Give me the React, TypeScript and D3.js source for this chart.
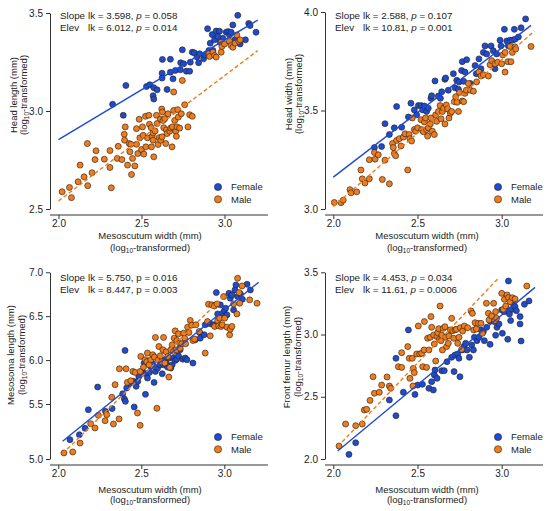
import React from 'react';
import { select, scaleLinear, axisLeft, axisBottom, line } from 'd3';

type Pt = [number, number];

const FONT = '"Liberation Sans", Arial, Helvetica, sans-serif';
const INK = '#222';

const seriesNames = ['Female', 'Male'];
const seriesColors = ['#1c4bd4', '#f07c1c'];

const xTicks = [2.0, 2.5, 3.0];
const xTitle = 'Mesoscutum width (mm)';

// --- head length ---
const headLengthTicks = [2.5, 3.0, 3.5];
const headLengthFemale: Pt[] = [
  [2.326, 3.034], [2.39, 2.978], [2.406, 3.13], [2.53, 3.125], [2.55, 3.134], [2.574, 3.119],
  [2.594, 3.108], [2.57, 3.078], [2.574, 3.061], [2.624, 3.193], [2.624, 3.168], [2.654, 3.11],
  [2.674, 3.198], [2.674, 3.264], [2.69, 3.164], [2.626, 3.263], [2.704, 3.207], [2.734, 3.21],
  [2.746, 3.312], [2.736, 3.246], [2.754, 3.241], [2.77, 3.203], [2.794, 3.249], [2.79, 3.203],
  [2.806, 3.3], [2.818, 3.297], [2.834, 3.276], [2.844, 3.246], [2.85, 3.292], [2.874, 3.266],
  [2.88, 3.286], [2.898, 3.42], [2.906, 3.309], [2.914, 3.346], [2.93, 3.309], [2.926, 3.39],
  [2.94, 3.363], [2.95, 3.408], [2.97, 3.407], [2.974, 3.351], [2.99, 3.371], [3.01, 3.402],
  [3.022, 3.405], [3.03, 3.388], [3.04, 3.402], [3.05, 3.439], [3.062, 3.363], [3.08, 3.488],
  [3.094, 3.342], [3.126, 3.363], [3.146, 3.447], [3.154, 3.436], [3.19, 3.402], [2.96, 3.38],
];
const headLengthMale: Pt[] = [
  [2.022, 2.588], [2.066, 2.61], [2.078, 2.558], [2.118, 2.639], [2.13, 2.724], [2.154, 2.664],
  [2.176, 2.619], [2.174, 2.834], [2.202, 2.685], [2.22, 2.752], [2.226, 2.797], [2.276, 2.754],
  [2.31, 2.798], [2.31, 2.712], [2.318, 2.608], [2.354, 2.758], [2.36, 2.82], [2.382, 2.752],
  [2.396, 2.881], [2.398, 2.851], [2.402, 2.919], [2.416, 2.724], [2.426, 2.834], [2.43, 2.792],
  [2.436, 2.83], [2.44, 2.676], [2.446, 2.758], [2.46, 2.72], [2.47, 2.91], [2.47, 2.83],
  [2.478, 2.783], [2.486, 2.958], [2.49, 2.863], [2.5, 2.803], [2.506, 2.919], [2.51, 2.876],
  [2.514, 2.78], [2.524, 2.973], [2.526, 2.817], [2.536, 2.863], [2.544, 2.978], [2.548, 2.932],
  [2.558, 2.915], [2.56, 2.817], [2.564, 2.871], [2.57, 2.888], [2.57, 2.851], [2.574, 2.766],
  [2.582, 2.898], [2.59, 2.978], [2.594, 2.936], [2.6, 2.829], [2.606, 2.864], [2.614, 2.959],
  [2.616, 2.851], [2.622, 3.01], [2.624, 2.868], [2.626, 2.995], [2.63, 2.952], [2.634, 2.915],
  [2.64, 2.961], [2.646, 2.834], [2.65, 2.903], [2.654, 2.885], [2.66, 2.986], [2.67, 2.897],
  [2.676, 2.913], [2.684, 2.817], [2.686, 2.919], [2.694, 3.003], [2.694, 3.097], [2.7, 2.952],
  [2.706, 2.897], [2.71, 2.871], [2.714, 2.919], [2.718, 3.007], [2.722, 2.969], [2.73, 2.913],
  [2.74, 2.986], [2.76, 3.032], [2.78, 2.919], [2.79, 2.981], [2.806, 2.973], [2.746, 3.156],
  [2.906, 3.292], [2.91, 3.278], [2.93, 3.3], [2.94, 3.283], [2.95, 3.275], [2.98, 3.3],
  [2.98, 3.351], [2.984, 3.329], [3.0, 3.342], [3.03, 3.356], [3.04, 3.334], [3.05, 3.325],
  [3.064, 3.346], [3.074, 3.388], [3.086, 3.356], [3.094, 3.363],
];
const headLengthFemaleFit: Pt[] = [[2.0, 2.854], [3.2, 3.464]];
const headLengthMaleFit: Pt[] = [[2.0, 2.541], [3.2, 3.308]];

// --- head width ---
const headWidthTicks = [3.0, 3.5, 4.0];
const headWidthFemale: Pt[] = [
  [2.244, 3.312], [2.287, 3.317], [2.307, 3.433], [2.333, 3.378], [2.362, 3.412], [2.376, 3.52],
  [2.406, 3.415], [2.446, 3.467], [2.461, 3.537], [2.481, 3.503], [2.495, 3.478], [2.505, 3.525],
  [2.521, 3.525], [2.531, 3.503], [2.541, 3.523], [2.554, 3.495], [2.564, 3.512], [2.58, 3.562],
  [2.584, 3.575], [2.604, 3.65], [2.624, 3.573], [2.636, 3.562], [2.644, 3.595], [2.663, 3.658],
  [2.667, 3.665], [2.683, 3.603], [2.713, 3.687], [2.723, 3.615], [2.733, 3.653], [2.743, 3.608],
  [2.747, 3.645], [2.762, 3.703], [2.766, 3.748], [2.774, 3.648], [2.782, 3.695], [2.792, 3.758],
  [2.814, 3.637], [2.842, 3.728], [2.849, 3.687], [2.865, 3.762], [2.877, 3.712], [2.891, 3.795],
  [2.901, 3.828], [2.911, 3.787], [2.937, 3.828], [2.95, 3.803], [2.96, 3.712], [2.97, 3.787],
  [2.99, 3.857], [2.996, 3.828], [3.016, 3.912], [3.03, 3.853], [3.04, 3.828], [3.049, 3.857],
  [3.063, 3.857], [3.075, 3.912], [3.079, 3.862], [3.099, 3.873], [3.115, 3.92], [3.142, 3.965],
];
const headWidthMale: Pt[] = [
  [2.006, 3.033], [2.046, 3.032], [2.059, 3.045], [2.099, 3.098], [2.105, 3.082], [2.139, 3.087],
  [2.164, 3.198], [2.172, 3.153], [2.188, 3.132], [2.214, 3.25], [2.214, 3.153], [2.244, 3.287],
  [2.248, 3.253], [2.267, 3.275], [2.291, 3.15], [2.307, 3.248], [2.333, 3.128], [2.352, 3.333],
  [2.356, 3.312], [2.362, 3.282], [2.37, 3.27], [2.376, 3.348], [2.392, 3.357], [2.402, 3.32],
  [2.416, 3.365], [2.426, 3.382], [2.442, 3.198], [2.45, 3.378], [2.455, 3.357], [2.465, 3.345],
  [2.469, 3.462], [2.481, 3.403], [2.489, 3.395], [2.501, 3.412], [2.521, 3.453], [2.525, 3.403],
  [2.535, 3.392], [2.541, 3.442], [2.548, 3.462], [2.554, 3.403], [2.56, 3.37], [2.564, 3.412],
  [2.576, 3.432], [2.58, 3.462], [2.588, 3.395], [2.6, 3.378], [2.608, 3.478], [2.614, 3.445],
  [2.624, 3.495], [2.634, 3.525], [2.64, 3.458], [2.648, 3.495], [2.655, 3.512], [2.663, 3.432],
  [2.671, 3.528], [2.679, 3.508], [2.687, 3.462], [2.695, 3.487], [2.703, 3.495], [2.719, 3.545],
  [2.727, 3.57], [2.735, 3.542], [2.743, 3.495], [2.749, 3.592], [2.766, 3.548], [2.774, 3.545],
  [2.782, 3.587], [2.79, 3.603], [2.802, 3.637], [2.814, 3.603], [2.832, 3.598], [2.851, 3.645],
  [2.865, 3.695], [2.877, 3.675], [2.891, 3.682], [2.921, 3.675], [2.931, 3.732], [2.941, 3.753],
  [2.96, 3.737], [2.976, 3.745], [3.0, 3.737], [3.006, 3.782], [3.02, 3.695], [3.036, 3.748],
  [3.05, 3.825], [3.055, 3.748], [3.063, 3.795], [3.079, 3.823], [3.083, 3.812], [3.174, 3.825],
  [3.02, 3.795],
];
const headWidthFemaleFit: Pt[] = [[2.0, 3.162], [3.174, 3.932]];
const headWidthMaleFit: Pt[] = [[2.0, 3.012], [3.194, 3.903]];

// --- mesosoma length ---
const mesosomaTicks = [5.0, 5.5, 6.0, 6.5, 7.0];
const mesosomaFemale: Pt[] = [
  [2.07, 5.176], [2.127, 5.221], [2.161, 5.279], [2.181, 5.448], [2.237, 5.693], [2.284, 5.433],
  [2.324, 5.458], [2.388, 5.617], [2.398, 5.557], [2.404, 5.53], [2.402, 6.11], [2.412, 5.682],
  [2.428, 5.739], [2.453, 5.758], [2.457, 5.473], [2.469, 5.701], [2.479, 5.758], [2.485, 5.814],
  [2.509, 5.86], [2.517, 5.966], [2.525, 5.61], [2.529, 5.845], [2.537, 5.795], [2.549, 5.86],
  [2.557, 5.928], [2.569, 5.958], [2.577, 5.746], [2.585, 5.871], [2.598, 5.909], [2.614, 5.947],
  [2.626, 5.845], [2.634, 5.947], [2.64, 6.004], [2.65, 5.966], [2.658, 5.92], [2.666, 6.023],
  [2.678, 5.909], [2.686, 5.947], [2.694, 6.023], [2.704, 5.996], [2.714, 6.011], [2.724, 6.049],
  [2.734, 6.117], [2.75, 6.011], [2.765, 6.023], [2.775, 6.004], [2.811, 5.966], [2.825, 6.231],
  [2.851, 6.314], [2.855, 6.25], [2.879, 6.288], [2.885, 6.402], [2.915, 6.413], [2.936, 6.402],
  [2.952, 6.769], [2.96, 6.526], [2.976, 6.629], [2.992, 6.534], [3.0, 6.564], [3.008, 6.591],
  [3.016, 6.515], [3.028, 6.761], [3.036, 6.705], [3.046, 6.742], [3.056, 6.572], [3.064, 6.799],
  [3.07, 6.856], [3.08, 6.723], [3.097, 6.754], [3.109, 6.693], [3.137, 6.864], [3.157, 6.799],
];
const mesosomaMale: Pt[] = [
  [2.034, 5.055], [2.087, 5.064], [2.131, 5.145], [2.195, 5.321], [2.221, 5.282], [2.241, 5.397],
  [2.282, 5.348], [2.292, 5.403], [2.322, 5.576], [2.332, 5.318], [2.342, 5.72], [2.366, 5.364],
  [2.368, 5.901], [2.408, 5.901], [2.416, 5.746], [2.437, 5.765], [2.449, 5.871], [2.463, 5.86],
  [2.477, 5.418], [2.493, 5.306], [2.493, 5.871], [2.497, 6.042], [2.513, 5.92], [2.523, 6.004],
  [2.533, 5.981], [2.537, 6.08], [2.547, 5.947], [2.557, 6.004], [2.569, 6.061], [2.579, 6.034],
  [2.585, 6.258], [2.594, 5.461], [2.602, 6.004], [2.606, 6.155], [2.614, 6.049], [2.622, 5.981],
  [2.63, 6.117], [2.634, 6.258], [2.642, 5.966], [2.65, 6.095], [2.66, 6.042], [2.666, 5.807],
  [2.672, 5.917], [2.678, 6.117], [2.686, 6.174], [2.694, 6.098], [2.698, 6.25], [2.704, 6.333],
  [2.71, 6.117], [2.714, 6.223], [2.724, 6.299], [2.73, 6.193], [2.734, 6.136], [2.744, 6.186],
  [2.755, 6.307], [2.761, 6.25], [2.767, 6.186], [2.779, 6.375], [2.787, 6.314], [2.795, 6.451],
  [2.803, 6.398], [2.811, 6.223], [2.821, 6.239], [2.829, 6.402], [2.849, 6.326], [2.885, 6.08],
  [2.899, 6.439], [2.905, 6.636], [2.915, 6.276], [2.925, 6.629], [2.94, 6.617], [2.942, 6.383],
  [2.956, 6.64], [2.96, 6.451], [2.966, 6.39], [2.972, 6.477], [2.98, 6.383], [2.988, 6.402],
  [2.996, 6.723], [3.002, 6.477], [3.016, 6.375], [3.032, 6.288], [3.036, 6.352], [3.046, 6.383],
  [3.056, 6.64], [3.08, 6.932], [3.089, 6.769], [3.093, 6.648], [3.107, 6.845], [3.076, 6.526],
  [3.153, 6.686], [3.197, 6.648],
];
const mesosomaFemaleFit: Pt[] = [[2.026, 5.161], [3.207, 6.886]];
const mesosomaMaleFit: Pt[] = [[2.026, 5.049], [3.006, 6.742]];

// --- front femur length ---
const femurTicks = [2.0, 2.5, 3.0, 3.5];
const femurFemale: Pt[] = [
  [2.093, 2.037], [2.133, 2.131], [2.333, 2.474], [2.372, 2.348], [2.372, 2.809], [2.416, 2.536],
  [2.446, 3.037], [2.485, 2.519], [2.501, 2.594], [2.529, 2.6], [2.568, 2.568], [2.584, 2.621],
  [2.594, 2.554], [2.6, 2.675], [2.604, 2.715], [2.616, 2.648], [2.644, 2.71], [2.659, 2.71],
  [2.675, 2.782], [2.703, 2.817], [2.717, 2.702], [2.723, 2.836], [2.739, 2.844], [2.746, 2.809],
  [2.752, 2.661], [2.766, 2.876], [2.776, 2.903], [2.786, 2.929], [2.794, 2.876], [2.808, 2.817],
  [2.822, 2.916], [2.832, 2.876], [2.838, 2.978], [2.853, 2.951], [2.865, 2.978], [2.877, 3.037],
  [2.891, 3.023], [2.897, 2.951], [2.911, 3.058], [2.931, 3.109], [2.931, 2.921], [2.956, 3.104],
  [2.964, 2.994], [2.972, 3.058], [2.984, 3.085], [3.0, 3.197], [3.004, 3.01], [3.016, 3.184],
  [3.028, 3.211], [3.036, 2.962], [3.04, 3.43], [3.046, 3.165], [3.053, 3.112], [3.063, 3.203],
  [3.071, 3.237], [3.079, 3.224], [3.087, 3.192], [3.109, 3.144], [3.109, 3.085], [3.115, 2.948],
  [3.135, 3.243], [3.162, 3.27],
];
const femurMale: Pt[] = [
  [2.034, 2.104], [2.073, 2.281], [2.133, 2.268], [2.172, 2.281], [2.184, 2.394], [2.198, 2.399],
  [2.218, 2.471], [2.236, 2.661], [2.244, 2.528], [2.273, 2.536], [2.287, 2.594], [2.319, 2.659],
  [2.333, 2.586], [2.341, 2.568], [2.386, 2.742], [2.406, 2.736], [2.406, 2.854], [2.442, 2.903],
  [2.451, 2.809], [2.455, 2.648], [2.469, 2.809], [2.473, 2.586], [2.475, 2.728], [2.481, 2.694],
  [2.495, 2.844], [2.505, 3.069], [2.513, 2.844], [2.525, 2.849], [2.531, 2.742], [2.539, 2.876],
  [2.541, 3.104], [2.554, 2.736], [2.56, 2.97], [2.568, 2.876], [2.576, 2.978], [2.58, 3.144],
  [2.584, 3.058], [2.596, 2.996], [2.6, 2.924], [2.608, 2.787], [2.616, 2.983], [2.62, 3.015],
  [2.626, 3.047], [2.63, 2.962], [2.634, 3.229], [2.64, 2.951], [2.644, 2.996], [2.648, 2.876],
  [2.653, 3.05], [2.663, 3.063], [2.667, 2.978], [2.673, 2.903], [2.683, 2.929], [2.687, 2.988],
  [2.695, 3.037], [2.703, 3.13], [2.709, 3.031], [2.715, 2.97], [2.723, 3.037], [2.731, 3.042],
  [2.739, 2.929], [2.746, 2.978], [2.754, 3.055], [2.762, 2.881], [2.768, 3.028], [2.778, 3.069],
  [2.798, 3.055], [2.818, 3.189], [2.826, 3.17], [2.834, 3.037], [2.842, 3.095], [2.85, 3.045],
  [2.861, 3.09], [2.877, 3.09], [2.885, 3.01], [2.909, 3.251], [2.921, 3.17], [2.925, 3.117],
  [2.941, 3.149], [2.952, 3.251], [2.96, 3.112], [2.964, 3.184], [2.97, 3.13], [3.0, 3.331],
  [3.01, 3.203], [3.016, 3.283], [3.024, 3.229], [3.032, 3.318], [3.04, 3.296], [3.05, 3.264],
  [3.063, 3.296], [3.079, 3.286], [3.149, 3.39],
];
const femurFemaleFit: Pt[] = [[2.026, 2.064], [3.198, 3.379]];
const femurMaleFit: Pt[] = [[2.026, 2.099], [2.98, 3.452]];

// test statistics: [lk, p] for slope and elevation
const slopeStats = [['3.598', '0.058'], ['2.588', '0.107'], ['5.750', '0.016'], ['4.453', '0.034']];
const elevStats = [['6.012', '0.014'], ['10.81', '0.001'], ['8.447', '0.003'], ['11.61', '0.0006']];
const yTitles = ['Head length (mm)', 'Head width (mm)', 'Mesosoma length (mm)', 'Front femur length (mm)'];

interface PanelSpec {
  left: number;
  top: number;
  yTicks: number[];
  yDomain: number[];
  yRange: number[];
  xRange: number[];
  female: Pt[];
  male: Pt[];
  femaleFit: Pt[];
  maleFit: Pt[];
  slope: string[];
  elev: string[];
  yTitle: string;
  italicP: boolean;
  noteY: number;
  titleY: number;
  titleX: number[];
  xTitleY: number[];
  xTitleX: number;
  legendX: number;
}

const panels: PanelSpec[] = [
  {
    left: 0, top: 0, yTicks: headLengthTicks, yDomain: [2.5, 3.5], yRange: [209, 13], xRange: [58.5, 224.5],
    female: headLengthFemale, male: headLengthMale, femaleFit: headLengthFemaleFit, maleFit: headLengthMaleFit,
    slope: slopeStats[0], elev: elevStats[0], yTitle: yTitles[0], italicP: true,
    noteY: 19, titleY: 95, titleX: [16.5, 27], xTitleY: [238.5, 250.5], xTitleX: 150, legendX: 218,
  },
  {
    left: 275, top: 0, yTicks: headWidthTicks, yDomain: [3.0, 4.0], yRange: [209, 12], xRange: [58.3, 226.7],
    female: headWidthFemale, male: headWidthMale, femaleFit: headWidthFemaleFit, maleFit: headWidthMaleFit,
    slope: slopeStats[1], elev: elevStats[1], yTitle: yTitles[1], italicP: true,
    noteY: 19, titleY: 94, titleX: [16.5, 27], xTitleY: [238.5, 250.5], xTitleX: 152, legendX: 223,
  },
  {
    left: 0, top: 250, yTicks: mesosomaTicks, yDomain: [5.0, 5.5, 7.0], yRange: [209, 154, 22.3], xRange: [58.3, 224.3],
    female: mesosomaFemale, male: mesosomaMale, femaleFit: mesosomaFemaleFit, maleFit: mesosomaMaleFit,
    slope: slopeStats[2], elev: elevStats[2], yTitle: yTitles[2], italicP: false,
    noteY: 31, titleY: 105, titleX: [14, 24.5], xTitleY: [242.5, 253], xTitleX: 150, legendX: 218,
  },
  {
    left: 275, top: 250, yTicks: femurTicks, yDomain: [2.0, 3.5], yRange: [209, 22.3], xRange: [58.3, 226.7],
    female: femurFemale, male: femurMale, femaleFit: femurFemaleFit, maleFit: femurMaleFit,
    slope: slopeStats[3], elev: elevStats[3], yTitle: yTitles[3], italicP: true,
    noteY: 31, titleY: 107, titleX: [15, 25.5], xTitleY: [242.5, 253], xTitleX: 152, legendX: 223,
  },
];

const AXIS_X = 50;
const AXIS_Y = 215;
const AXIS_END = 268;

const LogLabel: React.FC = () => (
  <>
    (log<tspan fontSize={6.5} dy={2}>10</tspan>
    <tspan dy={-2}>-transformed)</tspan>
  </>
);

const Stat: React.FC<{ x: number; y: number; name: string; lk: string; p: string; italic: boolean }> = ({
  x, y, name, lk, p, italic,
}) => (
  <text x={x} y={y} fontSize={9.8} fill={INK}>
    {name}
    <tspan x={x + 28}>{`lk = ${lk}, `}</tspan>
    <tspan fontStyle={italic ? 'italic' : 'normal'}>p</tspan>
    {` = ${p}`}
  </text>
);

const Panel: React.FC<{ p: PanelSpec }> = ({ p }) => {
  const xRef = React.useRef<SVGGElement>(null);
  const yRef = React.useRef<SVGGElement>(null);

  const x = scaleLinear().domain([2, 3]).range(p.xRange);
  const y = scaleLinear().domain(p.yDomain).range(p.yRange);
  const fit = line<Pt>()
    .x(d => x(d[0]))
    .y(d => y(d[1]));

  React.useEffect(() => {
    const gx = select(xRef.current);
    gx.call(
      axisBottom(x)
        .tickValues(xTicks)
        .tickFormat(d => (+d).toFixed(1))
        .tickSize(4)
        .tickSizeOuter(0)
        .tickPadding(1) as any
    );
    gx.select('.domain').remove();
    gx.attr('font-family', FONT).attr('font-size', 10);
    gx.selectAll('line').attr('stroke', '#333');
    gx.selectAll('text').attr('fill', INK);

    const gy = select(yRef.current);
    gy.call(
      axisLeft(y)
        .tickValues(p.yTicks)
        .tickFormat(d => (+d).toFixed(1))
        .tickSize(4)
        .tickSizeOuter(0)
        .tickPadding(3) as any
    );
    gy.attr('font-family', FONT).attr('font-size', 10);
    gy.select('.domain').attr('stroke', '#333');
    gy.selectAll('line').attr('stroke', '#333');
    gy.selectAll('text').attr('fill', INK);
  }, [p]);

  const dots = (data: Pt[], color: string, key: string) =>
    data.map((d, i) => (
      <circle
        key={key + i}
        cx={x(d[0])}
        cy={y(d[1])}
        r={3}
        fill={color}
        stroke="#2e2418"
        strokeWidth={0.65}
      />
    ));

  return (
    <g transform={`translate(${p.left},${p.top})`} fontFamily={FONT}>
      {dots(p.female, seriesColors[0], 'f')}
      {dots(p.male, seriesColors[1], 'm')}
      <path d={fit(p.femaleFit) ?? ''} fill="none" stroke={seriesColors[0]} strokeWidth={1.4} />
      <path
        d={fit(p.maleFit) ?? ''}
        fill="none"
        stroke={seriesColors[1]}
        strokeWidth={1.4}
        strokeDasharray="4,2.5"
      />
      <g ref={yRef} transform={`translate(${AXIS_X},0)`} />
      <g ref={xRef} transform={`translate(0,${AXIS_Y})`} />
      <line x1={AXIS_X} x2={AXIS_END} y1={AXIS_Y} y2={AXIS_Y} stroke="#333" />

      <Stat x={60} y={p.noteY} name="Slope" lk={p.slope[0]} p={p.slope[1]} italic={p.italicP} />
      <Stat x={60} y={p.noteY + 11.5} name="Elev" lk={p.elev[0]} p={p.elev[1]} italic={p.italicP} />

      {seriesNames.map((name, i) => (
        <g key={name} transform={`translate(${p.legendX},${187 + i * 12.3})`}>
          <circle r={3.6} fill={seriesColors[i]} stroke="#2e2418" strokeWidth={0.6} />
          <text x={13} y={3.4} fontSize={9.5} fill={INK}>
            {name}
          </text>
        </g>
      ))}

      <text x={p.xTitleX} y={p.xTitleY[0]} textAnchor="middle" fontSize={9.5} fill={INK}>
        {xTitle}
      </text>
      <text x={p.xTitleX} y={p.xTitleY[1]} textAnchor="middle" fontSize={9.5} fill={INK}>
        <LogLabel />
      </text>
      <text
        transform={`translate(${p.titleX[0]},${p.titleY}) rotate(-90)`}
        textAnchor="middle"
        fontSize={9.5}
        fill={INK}
      >
        {p.yTitle}
      </text>
      <text
        transform={`translate(${p.titleX[1]},${p.titleY}) rotate(-90)`}
        textAnchor="middle"
        fontSize={9.5}
        fill={INK}
      >
        <LogLabel />
      </text>
    </g>
  );
};

export default function App() {
  return (
    <svg
      width={550}
      height={511}
      style={{ position: 'absolute', left: 0, top: 0, background: '#fff' }}
    >
      {panels.map((p, i) => (
        <Panel key={i} p={p} />
      ))}
    </svg>
  );
}
